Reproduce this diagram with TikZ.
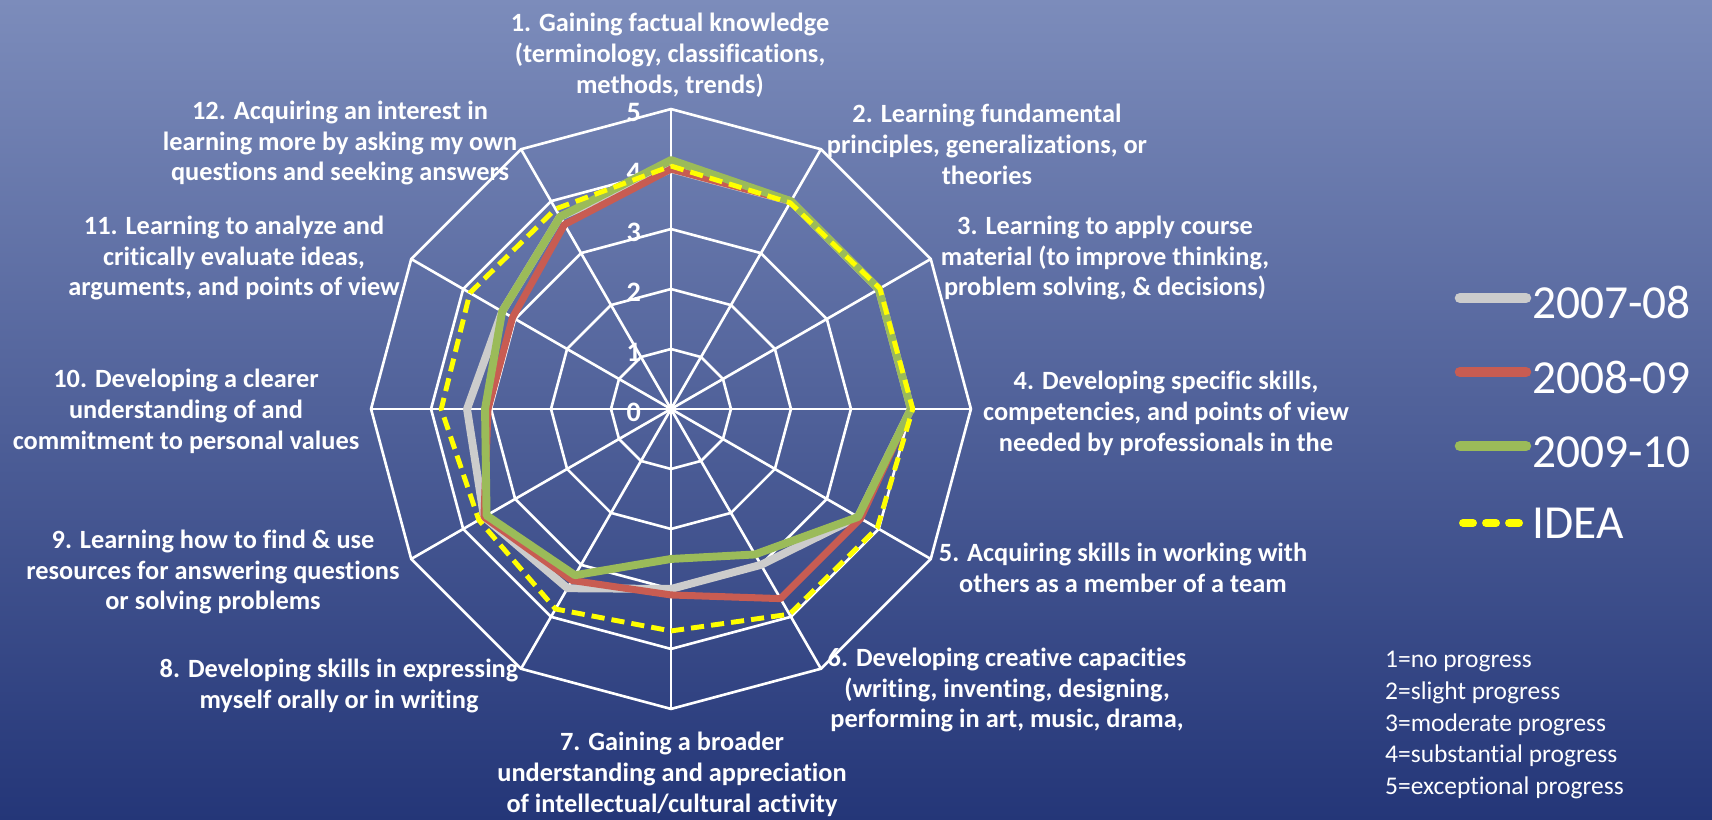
\documentclass[tikz,border=0pt]{standalone}
\usepackage{fontspec}
\setmainfont{Carlito}[Ligatures=NoCommon]
\usepackage{tikz}

\definecolor{bgtop}{RGB}{124,140,187}
\definecolor{bgbottom}{RGB}{36,54,120}
\definecolor{yearA}{RGB}{204,204,204}
\definecolor{yearB}{RGB}{200,92,82}
\definecolor{yearC}{RGB}{155,187,89}
\definecolor{ideayellow}{RGB}{255,255,0}

\tikzset{
  catlabel/.style={text=white, align=center, font=\bfseries\fontsize{15}{17.6}\selectfont},
  ringline/.style={white, line width=1.5pt},
  yearline/.style={line width=4.5pt, line join=round},
  legendtext/.style={text=white, anchor=west, font=\fontsize{27}{30}\selectfont},
}

\begin{document}
\begin{tikzpicture}[x=0.02cm, y=0.02cm]
    % Background
    \shade[top color=bgtop, bottom color=bgbottom] (-671,-411) rectangle (1041,409);
    \useasboundingbox (-671,-411) rectangle (1041,409);

    % Radar chart, one unit per ring
    \begin{scope}[x=1.2cm, y=1.2cm]
        % Rings and spokes
        \foreach \r in {1,...,5}
            \draw[ringline] (90:\r) \foreach \a in {60,30,...,-240} { -- (\a:\r) } -- cycle;
        \foreach \a in {0,30,...,330}
            \draw[ringline] (0,0) -- (\a:5);

        % Scale values
        \foreach \r in {0,...,5}
            \node[text=white, font=\bfseries\fontsize{16}{18}\selectfont] (tick\r) at (-0.62,\r-0.05) {\r};

        % The four series
        \draw[yearline, yearA] (90:4.0) -- (60:4.0) -- (30:4.0) -- (0:4.0) -- (-30:3.6) -- (-60:3.0)
            -- (-90:3.0) -- (-120:3.45) -- (-150:3.6) -- (180:3.4) -- (150:3.25) -- (120:3.7) -- cycle;
        \draw[yearline, yearB, line width=4pt] (90:4.0) -- (60:4.0) -- (30:4.0) -- (0:4.0) -- (-30:3.65) -- (-60:3.65)
            -- (-90:3.1) -- (-120:3.3) -- (-150:3.6) -- (180:3.05) -- (150:3.05) -- (120:3.55) -- cycle;
        \draw[yearline, yearC] (90:4.15) -- (60:4.0) -- (30:4.0) -- (0:4.0) -- (-30:3.6) -- (-60:2.8)
            -- (-90:2.5) -- (-120:3.2) -- (-150:3.55) -- (180:3.1) -- (150:3.25) -- (120:3.7) -- cycle;
        \draw[ideayellow, line width=2.8pt, line join=round, dash pattern=on 7.5pt off 4pt]
            (90:4.05) -- (60:3.97) -- (30:4.02) -- (0:4.03) -- (-30:3.97) -- (-60:3.95)
            -- (-90:3.7) -- (-120:3.85) -- (-150:3.7) -- (180:3.83) -- (150:3.87) -- (120:3.85) -- cycle;
    \end{scope}

    % Category labels
    \node[catlabel] (cat1) at (-1,354) {1. Gaining factual knowledge\\(terminology, classifications,\\methods, trends)};
    \node[catlabel] (cat2) at (316,265) {2. Learning fundamental\\principles, generalizations, or\\theories};
    \node[catlabel] (cat3) at (434,151) {3. Learning to apply course\\material (to improve thinking,\\problem solving, \& decisions)};
    \node[catlabel] (cat4) at (495,-4) {4. Developing specific skills,\\competencies, and points of view\\needed by professionals in the};
    \node[catlabel] (cat5) at (452,-159) {5. Acquiring skills in working with\\others as a member of a team};
    \node[catlabel] (cat6) at (336,-281) {6. Developing creative capacities\\(writing, inventing, designing,\\performing in art, music, drama,};
    \node[catlabel] (cat7) at (1,-365) {7. Gaining a broader\\understanding and appreciation\\of intellectual/cultural activity};
    \node[catlabel] (cat8) at (-332,-277) {8. Developing skills in expressing\\myself orally or in writing};
    \node[catlabel] (cat9) at (-458,-163) {9. Learning how to find \& use\\resources for answering questions\\or solving problems};
    \node[catlabel] (cat10) at (-485,-2) {10. Developing a clearer\\understanding of and\\commitment to personal values};
    \node[catlabel] (cat11) at (-437,151) {11. Learning to analyze and\\critically evaluate ideas,\\arguments, and points of view};
    \node[catlabel] (cat12) at (-331,266) {12. Acquiring an interest in\\learning more by asking my own\\questions and seeking answers};

    % Legend
    \draw[yearA, line width=6pt, line cap=round] (789,111) -- (855,111);
    \node[legendtext] (legA) at (855,107) {2007-08};
    \draw[yearB, line width=6pt, line cap=round] (789,37) -- (855,37);
    \node[legendtext] (legB) at (855,32) {2008-09};
    \draw[yearC, line width=6pt, line cap=round] (789,-37) -- (855,-37);
    \node[legendtext] (legC) at (855,-43) {2009-10};
    \draw[ideayellow, line width=4.5pt, line cap=round, dash pattern=on 5.7pt off 7.4pt] (792,-114) -- (852,-114);
    \node[legendtext] (legD) at (855,-114) {IDEA};

    % Meaning of the scale
    \node[text=white, anchor=west, align=left, font=\fontsize{14.5}{18}\selectfont] (scalekey) at (708,-316)
        {1=no progress\\2=slight progress\\3=moderate progress\\4=substantial progress\\5=exceptional progress};
\end{tikzpicture}
\end{document}
